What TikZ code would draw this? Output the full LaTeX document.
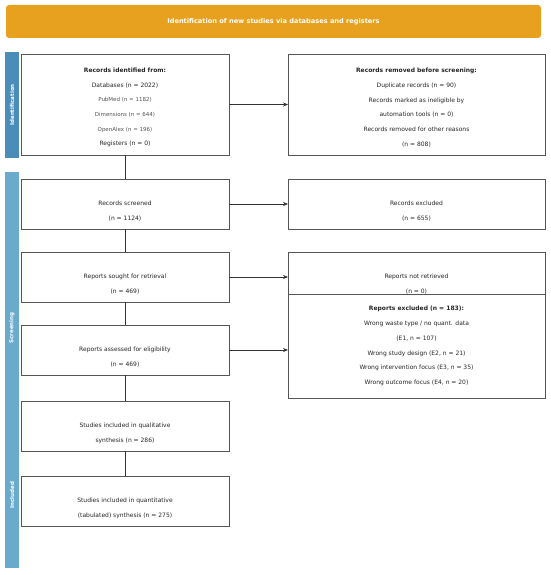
\documentclass[tikz,border=0pt]{standalone}
\usepackage{fontspec}
\setmainfont{DejaVu Sans}
\usetikzlibrary{arrows.meta, positioning}
\definecolor{headorange}{HTML}{E8A11F}
\definecolor{idblue}{HTML}{4A8DBA}
\definecolor{screenblue}{HTML}{6AAACC}
\definecolor{boxgray}{HTML}{555555}
\definecolor{subgray}{HTML}{555555}
\newcommand*{\sub}[1]{{\fontsize{5.5}{14.7}\selectfont\textcolor{subgray}{#1}}}
\newcommand*{\lift}{\rule{0pt}{10.5pt}}
\tikzstyle{block} = [draw=boxgray, line width=0.8pt, fill=white, rectangle, align=center, inner sep=0pt, outer sep=0pt, text=black!85, font=\fontsize{6}{14.7}\selectfont]
\tikzstyle{left box} = [block, minimum width=208pt, minimum height=50pt]
\tikzstyle{right box} = [block, minimum width=257pt, minimum height=50pt]
\tikzstyle{phase} = [rectangle, minimum height=14pt, inner sep=0pt, rotate=90, text=white, font=\fontsize{5.5}{6}\selectfont\bfseries]
\tikzstyle{link} = [line width=0.7pt, draw=black!80]
\tikzstyle{path} = [-{Stealth[length=5pt, width=4pt]}, link]

\begin{document}
\begin{tikzpicture}[x=1pt, y=-1pt, node distance=23pt]
    \useasboundingbox (0,0) rectangle (550,575);
    \node (head) [fill=headorange, rounded corners=3pt, minimum width=535pt, minimum height=33pt, text=white, font=\fontsize{6.6}{7}\selectfont\bfseries] at (273.5,21.5) {Identification of new studies via databases and registers};

    % Phase bars.
    \node (idbar) [phase, fill=idblue, minimum width=106pt] at (12,105) {Identification};
    \node (screenbar) [phase, fill=screenblue, minimum width=312pt] at (12,328) {Screening};
    \node (inclbar) [phase, fill=screenblue, minimum width=146pt] at (12,495) {Included};

    % Main column.
    \node (ident) [left box, minimum height=101pt] at (125,104.5) {\lift\textbf{Records identified from:}\\Databases (n = 2022)\\\sub{PubMed (n = 1182)}\\\sub{Dimensions (n = 644)}\\\sub{OpenAlex (n = 196)}\\Registers (n = 0)};
    \node (screen) [left box, below=24pt of ident] {\vphantom{A}\\Records screened\\(n = 1124)};
    \node (sought) [left box, below=of screen] {\vphantom{A}\\Reports sought for retrieval\\(n = 469)};
    \node (assess) [left box, below=of sought] {\vphantom{A}\\Reports assessed for eligibility\\(n = 469)};
    \node (qual) [left box, below=26pt of assess] {\vphantom{A}\\Studies included in qualitative\\synthesis (n = 286)};
    \node (quant) [left box, below=25pt of qual] {\vphantom{A}\\Studies included in quantitative\\(tabulated) synthesis (n = 275)};

    % Side column.
    \node (removed) [right box, minimum height=101pt, right=59pt of ident] {\lift\textbf{Records removed before screening:}\\Duplicate records (n = 90)\\Records marked as ineligible by\\automation tools (n = 0)\\Records removed for other reasons\\(n = 808)};
    \node (excl) [right box, right=59pt of screen] {\vphantom{A}\\Records excluded\\(n = 655)};
    \node (notret) [right box, right=59pt of sought] {\vphantom{A}\\Reports not retrieved\\(n = 0)};
    \node (rexcl) [right box, minimum height=104pt, below=-8pt of notret] {\textbf{Reports excluded (n = 183):}\\Wrong waste type / no quant. data\\(E1, n = 107)\\Wrong study design (E2, n = 21)\\Wrong intervention focus (E3, n = 35)\\Wrong outcome focus (E4, n = 20)};

    % Arrows.
    \draw [link] (ident) -- (screen);
    \draw [link] (screen) -- (sought);
    \draw [link] (sought) -- (assess);
    \draw [link] (assess) -- (qual);
    \draw [link] (qual) -- (quant);
    \draw [path] (ident) -- (ident -| removed.west);
    \draw [path] (screen) -- (screen -| excl.west);
    \draw [path] (sought) -- (sought -| notret.west);
    \draw [path] (assess) -- (assess -| rexcl.west);
\end{tikzpicture}
\end{document}
